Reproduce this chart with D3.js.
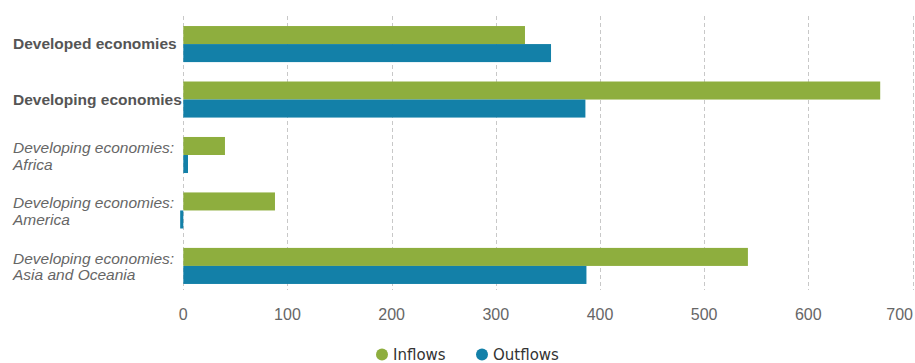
<!DOCTYPE html>
<html>
<head>
<meta charset="utf-8">
<script src="https://cdn.jsdelivr.net/npm/d3@7"></script>
<style>
  html, body { margin: 0; padding: 0; background: #fff; }
  svg { display: block; }
</style>
</head>
<body>
<div id="chart"></div>
<script>
const categories = [
  'Developed economies',
  'Developing economies',
  'Developing economies: Africa',
  'Developing economies: America',
  'Developing economies: Asia and Oceania'
];
const mainGroups = ['Developed economies', 'Developing economies'];
const seriesNames = ['Inflows', 'Outflows'];
const inflows = [328, 669, 40, 88, 542];
const outflows = [353, 386, 4.5, -3, 387];
const xTicks = [0, 100, 200, 300, 400, 500, 600, 700];

const width = 915, height = 363;
const colors = { Inflows: '#8eae3e', Outflows: '#1380a8' };

const svg = d3.select('#chart')
  .append('svg')
  .attr('width', width)
  .attr('height', height);

const x = d3.scaleLinear()
  .domain([0, 700])
  .range([183.3, 912.5]);

const y = d3.scaleBand()
  .domain(categories)
  .range([18, 292])
  .paddingInner(0.35)
  .paddingOuter(0.145);

const ySub = d3.scaleBand()
  .domain(seriesNames)
  .range([0, y.bandwidth()]);

// grid
svg.append('g')
  .selectAll('line')
  .data(xTicks)
  .enter()
  .append('line')
  .attr('x1', d => Math.round(x(d)) + 0.5)
  .attr('x2', d => Math.round(x(d)) + 0.5)
  .attr('y1', 16)
  .attr('y2', 290)
  .attr('stroke', '#c8c8c8')
  .attr('stroke-width', 1)
  .attr('stroke-dasharray', '4,3');

// bars
const rows = categories.map((c, i) => ({ cat: c, Inflows: inflows[i], Outflows: outflows[i] }));

const groups = svg.append('g')
  .selectAll('g')
  .data(rows)
  .enter()
  .append('g')
  .attr('transform', d => 'translate(0,' + y(d.cat) + ')');

groups.selectAll('rect')
  .data(d => seriesNames.map(s => ({ key: s, value: d[s] })))
  .enter()
  .append('rect')
  .attr('x', d => x(Math.min(0, d.value)))
  .attr('width', d => Math.abs(x(d.value) - x(0)))
  .attr('y', d => ySub(d.key))
  .attr('height', ySub.bandwidth())
  .attr('fill', d => colors[d.key]);

// category labels
const labels = svg.append('g')
  .selectAll('text')
  .data(categories)
  .enter()
  .append('text')
  .attr('x', 13)
  .attr('y', d => y(d) + y.bandwidth() / 2)
  .style('font-family', '"Liberation Sans", Arial, sans-serif')
  .style('font-size', '15.5px')
  .style('font-weight', d => mainGroups.includes(d) ? 'bold' : 'normal')
  .style('font-style', d => mainGroups.includes(d) ? 'normal' : 'italic')
  .attr('fill', d => mainGroups.includes(d) ? '#555' : '#666');

labels.each(function (d) {
  const t = d3.select(this);
  if (mainGroups.includes(d)) {
    t.append('tspan').attr('x', 13).attr('dy', '0.35em').text(d);
  } else {
    const idx = d.indexOf(': ');
    const lines = [d.slice(0, idx + 1), d.slice(idx + 2)];
    t.append('tspan').attr('x', 13).attr('dy', -2).text(lines[0]);
    t.append('tspan').attr('x', 13).attr('dy', 16.5).text(lines[1]);
  }
});

// x axis labels
const tickText = svg.append('g')
  .selectAll('text')
  .data(xTicks)
  .enter()
  .append('text')
  .attr('x', d => x(d))
  .attr('y', 320)
  .attr('text-anchor', 'middle')
  .style('font-family', '"Liberation Sans", Arial, sans-serif')
  .style('font-size', '16px')
  .attr('fill', '#666')
  .text(d => d);

tickText.each(function () {
  const b = this.getBBox();
  if (b.x + b.width > width - 1) {
    d3.select(this).attr('text-anchor', 'end').attr('x', width - 2);
  }
});

// legend
const legend = svg.append('g')
  .selectAll('g')
  .data(seriesNames)
  .enter()
  .append('g')
  .attr('transform', (d, i) => 'translate(' + (382 + i * 100) + ',354.5)');

legend.append('circle')
  .attr('r', 6)
  .attr('fill', d => colors[d]);

legend.append('text')
  .attr('x', 11)
  .attr('y', 5)
  .style('font-family', '"DejaVu Sans", Verdana, sans-serif')
  .style('font-size', '15px')
  .attr('fill', '#333')
  .text(d => d);
</script>
</body>
</html>
